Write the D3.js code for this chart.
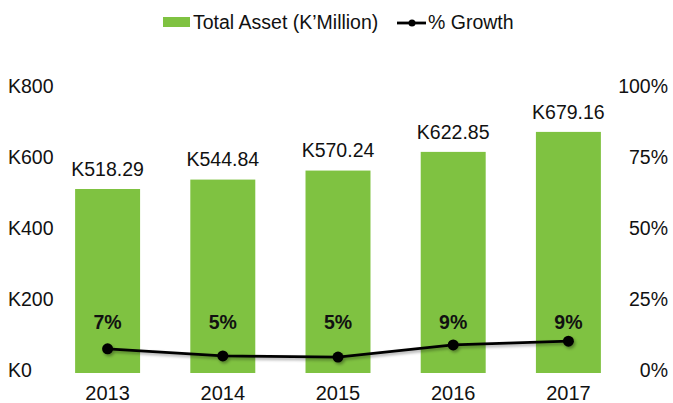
<!DOCTYPE html>
<html lang="en">
<head>
    <meta charset="UTF-8">
    <title>Total Asset and Growth</title>
    <script src="https://d3js.org/d3.v7.min.js"></script>
    <style>
        body {
            margin: 0;
            background: #fff;
        }
        svg text {
            font-family: "Liberation Sans", Arial, sans-serif;
            fill: #111;
        }
    </style>
</head>
<body>
    <div id="chart"></div>

    <script>
        // Data
        const years = ["2013", "2014", "2015", "2016", "2017"];
        const totalAsset = [518.29, 544.84, 570.24, 622.85, 679.16];
        const growth = [8.5, 6.0, 5.6, 9.9, 11.2];          // plotted line (%)
        const growthLabels = ["7%", "5%", "5%", "9%", "9%"];
        const leftTicks = [0, 200, 400, 600, 800];
        const rightTicks = [0, 25, 50, 75, 100];

        const width = 673;
        const height = 403;
        const barColor = "#7fc241";

        const svg = d3.select("#chart")
            .append("svg")
            .attr("width", width)
            .attr("height", height);

        // drop shadow for the line
        const defs = svg.append("defs");
        const filter = defs.append("filter")
            .attr("id", "shadow")
            .attr("x", "-20%").attr("y", "-50%")
            .attr("width", "140%").attr("height", "200%");
        filter.append("feDropShadow")
            .attr("dx", 1.5).attr("dy", 2)
            .attr("stdDeviation", 1.5)
            .attr("flood-color", "#000")
            .attr("flood-opacity", 0.35);

        // Scales
        const x = d3.scaleBand()
            .domain(years)
            .range([50, 626])
            .paddingInner(0.436)
            .paddingOuter(0.218);

        const y = d3.scaleLinear()
            .domain([0, 800])
            .range([373, 89]);

        const y2 = d3.scaleLinear()
            .domain([0, 100])
            .range([373, 89]);

        // Left axis labels
        svg.append("g")
            .selectAll("text")
            .data(leftTicks)
            .join("text")
            .attr("x", 8)
            .attr("y", d => y(d) - 3)
            .attr("dy", "0.35em")
            .style("font-size", "19.5px")
            .text(d => "K" + d);

        // Right axis labels
        svg.append("g")
            .selectAll("text")
            .data(rightTicks)
            .join("text")
            .attr("x", 668)
            .attr("y", d => y2(d) - 3)
            .attr("dy", "0.35em")
            .attr("text-anchor", "end")
            .style("font-size", "19.5px")
            .text(d => d + "%");

        // Bars
        svg.append("g")
            .selectAll("rect")
            .data(years)
            .join("rect")
            .attr("x", d => x(d))
            .attr("y", (d, i) => y(totalAsset[i]))
            .attr("width", x.bandwidth())
            .attr("height", (d, i) => y(0) - y(totalAsset[i]))
            .attr("fill", barColor);

        // Bar value labels
        svg.append("g")
            .selectAll("text")
            .data(years)
            .join("text")
            .attr("x", d => x(d) + x.bandwidth() / 2)
            .attr("y", (d, i) => y(totalAsset[i]) - 20)
            .attr("dy", "0.35em")
            .attr("text-anchor", "middle")
            .style("font-size", "19.5px")
            .text((d, i) => "K" + totalAsset[i].toFixed(2));

        // Category labels
        svg.append("g")
            .selectAll("text")
            .data(years)
            .join("text")
            .attr("x", d => x(d) + x.bandwidth() / 2)
            .attr("y", 393)
            .attr("dy", "0.35em")
            .attr("text-anchor", "middle")
            .style("font-size", "20px")
            .text(d => d);

        // Growth line
        const line = d3.line()
            .x((d, i) => x(years[i]) + x.bandwidth() / 2)
            .y(d => y2(d));

        const lineGroup = svg.append("g").attr("filter", "url(#shadow)");
        lineGroup.append("path")
            .datum(growth)
            .attr("d", line)
            .attr("fill", "none")
            .attr("stroke", "#000")
            .attr("stroke-width", 2.8);

        lineGroup.selectAll("circle")
            .data(growth)
            .join("circle")
            .attr("cx", (d, i) => x(years[i]) + x.bandwidth() / 2)
            .attr("cy", d => y2(d))
            .attr("r", 5.5)
            .attr("fill", "#000");

        // Growth labels
        svg.append("g")
            .selectAll("text")
            .data(growthLabels)
            .join("text")
            .attr("x", (d, i) => x(years[i]) + x.bandwidth() / 2)
            .attr("y", 322)
            .attr("dy", "0.35em")
            .attr("text-anchor", "middle")
            .style("font-size", "19.5px")
            .style("font-weight", "bold")
            .text(d => d);

        // Legend
        const legend = svg.append("g");
        legend.append("rect")
            .attr("x", 163).attr("y", 17)
            .attr("width", 27).attr("height", 10)
            .attr("fill", barColor);
        legend.append("text")
            .attr("x", 193).attr("y", 22)
            .attr("dy", "0.35em")
            .style("font-size", "19.5px")
            .text("Total Asset (K’Million)");
        legend.append("line")
            .attr("x1", 397).attr("x2", 426)
            .attr("y1", 23).attr("y2", 23)
            .attr("stroke", "#000")
            .attr("stroke-width", 2.8);
        legend.append("circle")
            .attr("cx", 412).attr("cy", 23)
            .attr("r", 3.5)
            .attr("fill", "#000");
        legend.append("text")
            .attr("x", 428).attr("y", 22)
            .attr("dy", "0.35em")
            .style("font-size", "19.5px")
            .text("% Growth");
    </script>
</body>
</html>
